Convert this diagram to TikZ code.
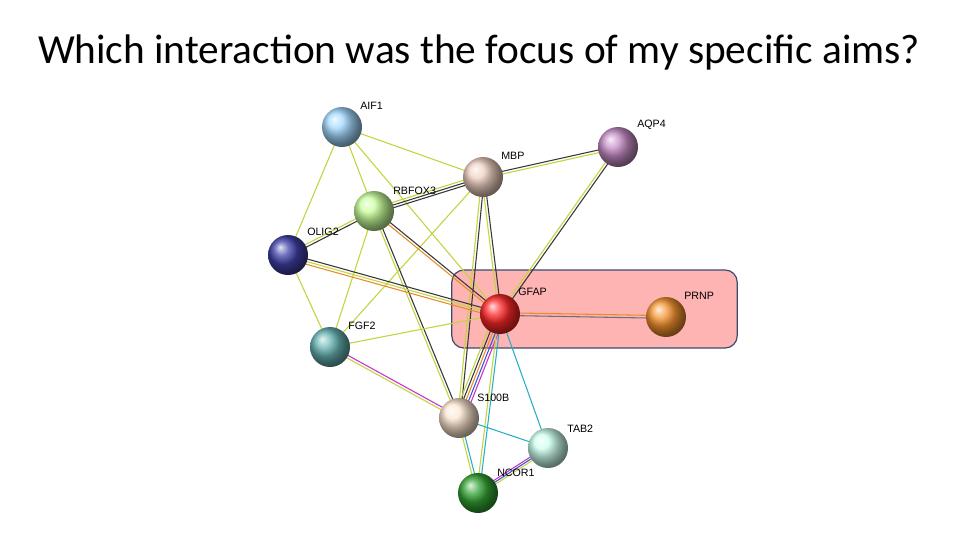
\documentclass[tikz,border=0pt]{standalone}
\usepackage{fontspec}
\setmainfont{Carlito}
\newfontfamily\lab{Liberation Sans}
\usetikzlibrary{calc}
\definecolor{yg}{RGB}{195,212,60}
\definecolor{bk}{RGB}{55,55,55}
\definecolor{tl}{RGB}{40,175,200}
\definecolor{mg}{RGB}{200,50,200}
\definecolor{og}{RGB}{230,140,40}
\definecolor{bl}{RGB}{60,80,220}
\definecolor{gy}{RGB}{110,110,120}
\definecolor{boxfill}{RGB}{255,180,180}
\definecolor{boxline}{RGB}{60,75,110}
\newcommand\ed[4]{\draw[#3,line width=0.8pt] ($(#1)!#4!90:(#2)$) -- ($(#2)!#4!-90:(#1)$);}
\tikzset{ball/.style={circle,minimum size=30pt,inner sep=0pt,shading=ball,ball color=#1},
 lbl/.style={font=\lab\fontsize{8}{9}\selectfont,anchor=south west,inner sep=0pt}}
\begin{document}
\begin{tikzpicture}[x=0.75pt,y=-0.75pt]
\useasboundingbox (0,0) rectangle (960,540);
\fill[white] (0,0) rectangle (960,540);
\node[font=\fontsize{31}{36}\selectfont] (title) at (479,52) {Which interaction was the focus of my specific aims?};
\node[draw=boxline,line width=0.9pt,fill=boxfill,rounded corners=9pt,minimum width=214pt,minimum height=58.5pt,inner sep=0pt] (box) at (594.5,309) {};
\coordinate (AIF1) at (342,127);
\coordinate (AQP4) at (618,147);
\coordinate (MBP) at (483,177);
\coordinate (RBFOX3) at (374,211);
\coordinate (OLIG2) at (288,255);
\coordinate (GFAP) at (500,314);
\coordinate (PRNP) at (666,317);
\coordinate (FGF2) at (330,347);
\coordinate (S100B) at (459,418);
\coordinate (TAB2) at (548,448);
\coordinate (NCOR1) at (478,493);
% edges
\ed{AIF1}{MBP}{yg}{0pt}
\ed{AIF1}{RBFOX3}{yg}{0pt}
\ed{AIF1}{OLIG2}{yg}{0pt}
\ed{AIF1}{GFAP}{yg}{0pt}
\ed{MBP}{AQP4}{bk}{1pt}\ed{MBP}{AQP4}{yg}{-1pt}
\ed{RBFOX3}{MBP}{bk}{-2pt}\ed{RBFOX3}{MBP}{bk}{0pt}\ed{RBFOX3}{MBP}{yg}{2pt}
\ed{OLIG2}{RBFOX3}{bk}{-1pt}\ed{OLIG2}{RBFOX3}{yg}{1pt}
\ed{FGF2}{MBP}{yg}{0pt}
\ed{MBP}{GFAP}{bk}{1pt}\ed{MBP}{GFAP}{yg}{-1pt}
\ed{MBP}{S100B}{bk}{1pt}\ed{MBP}{S100B}{yg}{-1pt}
\ed{AQP4}{GFAP}{bk}{1pt}\ed{AQP4}{GFAP}{yg}{-1pt}
\ed{RBFOX3}{GFAP}{bk}{1pt}\ed{RBFOX3}{GFAP}{og}{-1pt}
\ed{RBFOX3}{S100B}{bk}{1pt}\ed{RBFOX3}{S100B}{yg}{-1pt}
\ed{RBFOX3}{FGF2}{yg}{0pt}
\ed{OLIG2}{GFAP}{bk}{1pt}\ed{OLIG2}{GFAP}{yg}{-1pt}\ed{OLIG2}{GFAP}{og}{-3pt}
\ed{OLIG2}{FGF2}{yg}{0pt}
\ed{FGF2}{GFAP}{yg}{0pt}
\ed{FGF2}{S100B}{mg}{1pt}\ed{FGF2}{S100B}{yg}{-1pt}
\ed{GFAP}{PRNP}{gy}{-1pt}\ed{GFAP}{PRNP}{og}{1pt}
\ed{GFAP}{S100B}{yg}{-4pt}\ed{GFAP}{S100B}{bk}{-2pt}\ed{GFAP}{S100B}{og}{0pt}\ed{GFAP}{S100B}{bl}{2pt}\ed{GFAP}{S100B}{mg}{4pt}
\ed{GFAP}{TAB2}{tl}{0pt}
\ed{GFAP}{NCOR1}{tl}{1pt}\ed{GFAP}{NCOR1}{yg}{-1pt}
\ed{S100B}{TAB2}{tl}{0pt}
\ed{S100B}{NCOR1}{tl}{1pt}\ed{S100B}{NCOR1}{yg}{-1pt}
\ed{TAB2}{NCOR1}{mg}{-1.5pt}\ed{TAB2}{NCOR1}{bl}{0pt}\ed{TAB2}{NCOR1}{yg}{1.5pt}
% balls
\node[ball={cyan!25!white!85!blue}] (bAIF1) at (AIF1) {};
\node[ball={violet!45!white}] (bAQP4) at (AQP4) {};
\node[ball={red!20!brown!30!white}] (bMBP) at (MBP) {};
\node[ball={yellow!45!green!40!white}] (bRBFOX3) at (RBFOX3) {};
\node[ball={blue!55!black!75!white}] (bOLIG2) at (OLIG2) {};
\node[ball={red!85!white}] (bGFAP) at (GFAP) {};
\node[ball={orange!85!brown!85!white}] (bPRNP) at (PRNP) {};
\node[ball={teal!60!white}] (bFGF2) at (FGF2) {};
\node[ball={brown!25!orange!20!white}] (bS100B) at (S100B) {};
\node[ball={green!35!cyan!20!white}] (bTAB2) at (TAB2) {};
\node[ball={green!55!black!80!white}] (bNCOR1) at (NCOR1) {};
% labels
\node[lbl] (lAIF1) at (360,110) {AIF1};
\node[lbl] (lAQP4) at (637,130) {AQP4};
\node[lbl] (lMBP) at (501,160) {MBP};
\node[lbl] (lRBFOX3) at (393,195) {RBFOX3};
\node[lbl] (lOLIG2) at (307,236) {OLIG2};
\node[lbl] (lGFAP) at (518,296) {GFAP};
\node[lbl] (lPRNP) at (684,300) {PRNP};
\node[lbl] (lFGF2) at (348,330) {FGF2};
\node[lbl] (lS100B) at (477,402) {S100B};
\node[lbl] (lTAB2) at (567,433) {TAB2};
\node[lbl] (lNCOR1) at (497,477) {NCOR1};
\end{tikzpicture}
\end{document}
